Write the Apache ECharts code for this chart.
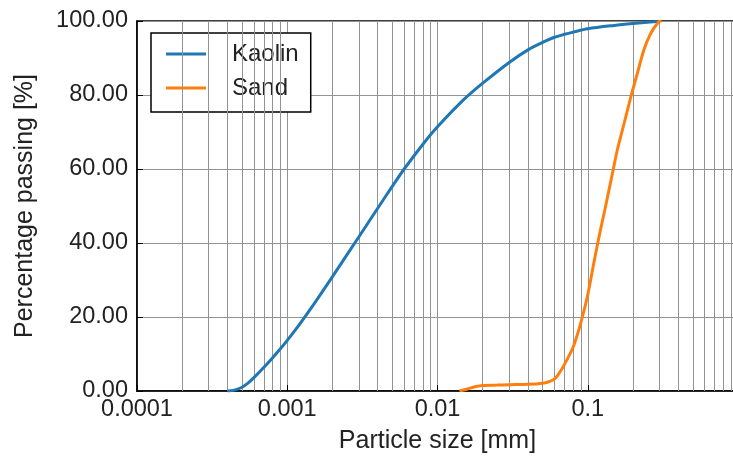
<!DOCTYPE html>
<html>
<head>
<meta charset="utf-8">
<script src="https://cdn.jsdelivr.net/npm/echarts@6/dist/echarts.min.js"></script>
<style>
  html, body { margin: 0; padding: 0; background: #fff; }
  #psd { width: 733px; height: 460px; }
</style>
</head>
<body>
<div id="psd"></div>
<script>
// particle size [mm] and percentage passing
var kaolinSize = [0.0004, 0.00042, 0.00045, 0.0005, 0.00055, 0.0006, 0.0007, 0.0008, 0.0009, 0.001, 0.0012, 0.0015, 0.002, 0.003, 0.004, 0.005, 0.006, 0.008, 0.01, 0.015, 0.02, 0.03, 0.04, 0.05, 0.06, 0.07, 0.08, 0.1, 0.15, 0.2, 0.3];
var kaolinPass = [0, 0.05, 0.3, 1.0, 2.2, 3.6, 6.4, 9.0, 11.4, 13.7, 17.9, 23.4, 30.9, 41.7, 49.4, 55.3, 60, 66.7, 71.4, 78.8, 83.2, 88.8, 92.2, 94.2, 95.6, 96.4, 97.0, 97.9, 98.8, 99.3, 99.9];

var sandSize = [0.014, 0.016, 0.018, 0.02, 0.025, 0.03, 0.04, 0.05, 0.055, 0.06, 0.065, 0.07, 0.08, 0.09, 0.1, 0.11, 0.12, 0.13, 0.148, 0.157, 0.175, 0.195, 0.215, 0.236, 0.262, 0.297, 0.31];
var sandPass = [0, 0.6, 1.2, 1.5, 1.6, 1.7, 1.8, 2.1, 2.5, 3.2, 5.0, 7.2, 11.9, 18.5, 26, 34.8, 42.5, 49.0, 60, 65, 72.5, 80, 86.2, 92.1, 96.6, 99.8, 100];

var xTickLabels = ['0.0001', '0.001', '0.01', '0.1', '1'];
var yTickLabels = ['0.00', '20.00', '40.00', '60.00', '80.00', '100.00'];

// minor log gridlines (2..9 in every decade)
var decades = [0.0001, 0.001, 0.01, 0.1];
var minorSteps = [2, 3, 4, 5, 6, 7, 8, 9];

function pairs(xs, ys) {
    return xs.map(function (x, i) { return [x, ys[i]]; });
}

var minorLines = [];
decades.forEach(function (d) {
    minorSteps.forEach(function (k) {
        minorLines.push([{ coord: [d * k, 0] }, { coord: [d * k, 100] }]);
    });
});

var font = '"Liberation Sans", Arial, Helvetica, sans-serif';
var gridGray = '#939393';

var myChart = echarts.init(document.getElementById('psd'), null, { renderer: 'canvas' });

var option = {
    animation: false,
    backgroundColor: '#fff',
    textStyle: { fontFamily: font },
    grid: {
        left: 137,
        right: -5,
        top: 21,
        bottom: 69,
        show: true,
        borderColor: '#000',
        borderWidth: 1.5,
        backgroundColor: '#fff',
        outerBoundsMode: 'none'
    },
    legend: {
        data: ['Kaolin', 'Sand'],
        orient: 'vertical',
        left: 151,
        top: 33,
        padding: [9, 12, 12, 15],
        itemWidth: 40,
        itemHeight: 3,
        itemGap: 10,
        icon: 'rect',
        borderColor: '#000',
        borderWidth: 1.5,
        backgroundColor: '#fff',
        textStyle: {
            fontFamily: font,
            fontSize: 24,
            lineHeight: 24,
            color: '#222',
            padding: [0, 0, 0, 21]
        }
    },
    xAxis: {
        type: 'log',
        logBase: 10,
        min: 0.0001,
        max: 1,
        name: 'Particle size [mm]',
        nameLocation: 'middle',
        nameGap: 38,
        nameTextStyle: { fontFamily: font, fontSize: 25, color: '#222' },
        axisLine: { show: true, onZero: false, lineStyle: { color: '#000', width: 1.5 } },
        axisTick: { show: true, inside: true, length: 6, lineStyle: { color: '#000' } },
        axisLabel: {
            fontFamily: font,
            fontSize: 23.5,
            color: '#222',
            margin: 7,
            formatter: function (v, i) { return xTickLabels[i] !== undefined ? xTickLabels[i] : ''; }
        },
        splitLine: { show: true, lineStyle: { color: gridGray, width: 1 } }
    },
    yAxis: {
        type: 'value',
        min: 0,
        max: 100,
        interval: 20,
        name: 'Percentage passing [%]',
        nameLocation: 'middle',
        nameGap: 99,
        nameTextStyle: { fontFamily: font, fontSize: 25, color: '#222' },
        axisLine: { show: true, lineStyle: { color: '#000', width: 1.5 } },
        axisTick: { show: true, inside: true, length: 6, lineStyle: { color: '#000' } },
        axisLabel: {
            fontFamily: font,
            fontSize: 23.5,
            color: '#222',
            margin: 9,
            formatter: function (v, i) { return yTickLabels[i]; }
        },
        splitLine: { show: true, lineStyle: { color: gridGray, width: 1 } }
    },
    series: [
        {
            name: 'grid',
            type: 'line',
            data: [],
            silent: true,
            z: 1,
            markLine: {
                silent: true,
                symbol: 'none',
                label: { show: false },
                lineStyle: { color: gridGray, width: 1, type: 'solid' },
                data: minorLines
            }
        },
        {
            name: 'Kaolin',
            type: 'line',
            data: pairs(kaolinSize, kaolinPass),
            smooth: 0.3,
            showSymbol: false,
            z: 10,
            color: '#1f77b4',
            lineStyle: { color: '#1f77b4', width: 3 }
        },
        {
            name: 'Sand',
            type: 'line',
            data: pairs(sandSize, sandPass),
            smooth: 0.3,
            showSymbol: false,
            z: 10,
            color: '#ff7f0e',
            lineStyle: { color: '#ff7f0e', width: 3 }
        }
    ]
};

option && myChart.setOption(option);
window.addEventListener('resize', myChart.resize);
</script>
</body>
</html>
